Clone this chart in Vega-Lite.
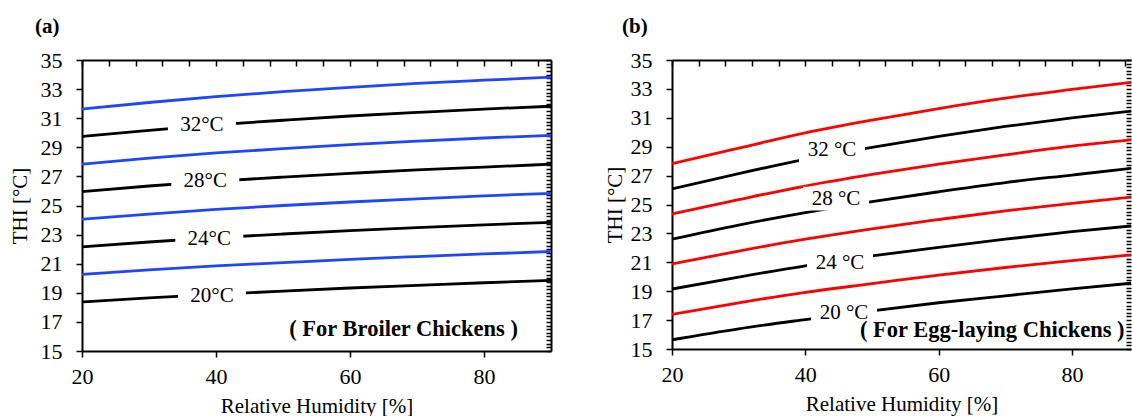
{
  "$schema": "https://vega.github.io/schema/vega-lite/v6.json",
  "padding": {"left": 9, "top": 16, "right": 0, "bottom": 0},
  "background": "white",
  "spacing": 47,
  "config": {
    "view": {"stroke": null},
    "font": "Liberation Serif",
    "axis": {
      "grid": false,
      "labelFont": "Liberation Serif",
      "labelFontSize": 22,
      "labelColor": "black",
      "titleFont": "Liberation Serif",
      "titleFontSize": 21,
      "titleFontWeight": "normal",
      "titleColor": "black",
      "domainColor": "black",
      "domainWidth": 2,
      "tickColor": "black",
      "tickWidth": 1.5,
      "labelFlush": false,
      "labelOverlap": false
    },
    "title": {"font": "Liberation Serif", "fontSize": 21, "fontWeight": "bold", "color": "black", "anchor": "start", "frame": "group", "baseline": "bottom"}
  },
  "datasets": {
    "a_lines": [
      {"T": 20, "kind": "labelled", "RH": 20, "THI": 18.37}, {"T": 20, "kind": "labelled", "RH": 30, "THI": 18.65}, {"T": 20, "kind": "labelled", "RH": 40, "THI": 18.89}, {"T": 20, "kind": "labelled", "RH": 50, "THI": 19.12}, {"T": 20, "kind": "labelled", "RH": 60, "THI": 19.33}, {"T": 20, "kind": "labelled", "RH": 70, "THI": 19.51}, {"T": 20, "kind": "labelled", "RH": 80, "THI": 19.69}, {"T": 20, "kind": "labelled", "RH": 90, "THI": 19.85},
      {"T": 22, "kind": "intermediate", "RH": 20, "THI": 20.26}, {"T": 22, "kind": "intermediate", "RH": 30, "THI": 20.58}, {"T": 22, "kind": "intermediate", "RH": 40, "THI": 20.85}, {"T": 22, "kind": "intermediate", "RH": 50, "THI": 21.07}, {"T": 22, "kind": "intermediate", "RH": 60, "THI": 21.3}, {"T": 22, "kind": "intermediate", "RH": 70, "THI": 21.49}, {"T": 22, "kind": "intermediate", "RH": 80, "THI": 21.67}, {"T": 22, "kind": "intermediate", "RH": 90, "THI": 21.84},
      {"T": 24, "kind": "labelled", "RH": 20, "THI": 22.16}, {"T": 24, "kind": "labelled", "RH": 30, "THI": 22.49}, {"T": 24, "kind": "labelled", "RH": 40, "THI": 22.79}, {"T": 24, "kind": "labelled", "RH": 50, "THI": 23.04}, {"T": 24, "kind": "labelled", "RH": 60, "THI": 23.27}, {"T": 24, "kind": "labelled", "RH": 70, "THI": 23.48}, {"T": 24, "kind": "labelled", "RH": 80, "THI": 23.67}, {"T": 24, "kind": "labelled", "RH": 90, "THI": 23.84},
      {"T": 26, "kind": "intermediate", "RH": 20, "THI": 24.05}, {"T": 26, "kind": "intermediate", "RH": 30, "THI": 24.41}, {"T": 26, "kind": "intermediate", "RH": 40, "THI": 24.73}, {"T": 26, "kind": "intermediate", "RH": 50, "THI": 25.0}, {"T": 26, "kind": "intermediate", "RH": 60, "THI": 25.24}, {"T": 26, "kind": "intermediate", "RH": 70, "THI": 25.46}, {"T": 26, "kind": "intermediate", "RH": 80, "THI": 25.66}, {"T": 26, "kind": "intermediate", "RH": 90, "THI": 25.84},
      {"T": 28, "kind": "labelled", "RH": 20, "THI": 25.95}, {"T": 28, "kind": "labelled", "RH": 30, "THI": 26.34}, {"T": 28, "kind": "labelled", "RH": 40, "THI": 26.67}, {"T": 28, "kind": "labelled", "RH": 50, "THI": 26.95}, {"T": 28, "kind": "labelled", "RH": 60, "THI": 27.21}, {"T": 28, "kind": "labelled", "RH": 70, "THI": 27.45}, {"T": 28, "kind": "labelled", "RH": 80, "THI": 27.64}, {"T": 28, "kind": "labelled", "RH": 90, "THI": 27.84},
      {"T": 30, "kind": "intermediate", "RH": 20, "THI": 27.84}, {"T": 30, "kind": "intermediate", "RH": 30, "THI": 28.25}, {"T": 30, "kind": "intermediate", "RH": 40, "THI": 28.61}, {"T": 30, "kind": "intermediate", "RH": 50, "THI": 28.91}, {"T": 30, "kind": "intermediate", "RH": 60, "THI": 29.18}, {"T": 30, "kind": "intermediate", "RH": 70, "THI": 29.42}, {"T": 30, "kind": "intermediate", "RH": 80, "THI": 29.64}, {"T": 30, "kind": "intermediate", "RH": 90, "THI": 29.82},
      {"T": 32, "kind": "labelled", "RH": 20, "THI": 29.74}, {"T": 32, "kind": "labelled", "RH": 30, "THI": 30.17}, {"T": 32, "kind": "labelled", "RH": 40, "THI": 30.55}, {"T": 32, "kind": "labelled", "RH": 50, "THI": 30.86}, {"T": 32, "kind": "labelled", "RH": 60, "THI": 31.15}, {"T": 32, "kind": "labelled", "RH": 70, "THI": 31.4}, {"T": 32, "kind": "labelled", "RH": 80, "THI": 31.63}, {"T": 32, "kind": "labelled", "RH": 90, "THI": 31.82},
      {"T": 34, "kind": "intermediate", "RH": 20, "THI": 31.63}, {"T": 34, "kind": "intermediate", "RH": 30, "THI": 32.08}, {"T": 34, "kind": "intermediate", "RH": 40, "THI": 32.49}, {"T": 34, "kind": "intermediate", "RH": 50, "THI": 32.82}, {"T": 34, "kind": "intermediate", "RH": 60, "THI": 33.12}, {"T": 34, "kind": "intermediate", "RH": 70, "THI": 33.39}, {"T": 34, "kind": "intermediate", "RH": 80, "THI": 33.61}, {"T": 34, "kind": "intermediate", "RH": 90, "THI": 33.82}
    ],
    "b_lines": [
      {"T": 20, "kind": "labelled", "RH": 20, "THI": 15.64}, {"T": 20, "kind": "labelled", "RH": 30, "THI": 16.4}, {"T": 20, "kind": "labelled", "RH": 40, "THI": 17.04}, {"T": 20, "kind": "labelled", "RH": 50, "THI": 17.64}, {"T": 20, "kind": "labelled", "RH": 60, "THI": 18.2}, {"T": 20, "kind": "labelled", "RH": 70, "THI": 18.68}, {"T": 20, "kind": "labelled", "RH": 80, "THI": 19.16}, {"T": 20, "kind": "labelled", "RH": 90, "THI": 19.6},
      {"T": 22, "kind": "intermediate", "RH": 20, "THI": 17.4}, {"T": 22, "kind": "intermediate", "RH": 30, "THI": 18.2}, {"T": 22, "kind": "intermediate", "RH": 40, "THI": 18.92}, {"T": 22, "kind": "intermediate", "RH": 50, "THI": 19.52}, {"T": 22, "kind": "intermediate", "RH": 60, "THI": 20.12}, {"T": 22, "kind": "intermediate", "RH": 70, "THI": 20.64}, {"T": 22, "kind": "intermediate", "RH": 80, "THI": 21.12}, {"T": 22, "kind": "intermediate", "RH": 90, "THI": 21.56},
      {"T": 24, "kind": "labelled", "RH": 20, "THI": 19.15}, {"T": 24, "kind": "labelled", "RH": 30, "THI": 19.98}, {"T": 24, "kind": "labelled", "RH": 40, "THI": 20.76}, {"T": 24, "kind": "labelled", "RH": 50, "THI": 21.44}, {"T": 24, "kind": "labelled", "RH": 60, "THI": 22.04}, {"T": 24, "kind": "labelled", "RH": 70, "THI": 22.6}, {"T": 24, "kind": "labelled", "RH": 80, "THI": 23.12}, {"T": 24, "kind": "labelled", "RH": 90, "THI": 23.56},
      {"T": 26, "kind": "intermediate", "RH": 20, "THI": 20.88}, {"T": 26, "kind": "intermediate", "RH": 30, "THI": 21.78}, {"T": 26, "kind": "intermediate", "RH": 40, "THI": 22.6}, {"T": 26, "kind": "intermediate", "RH": 50, "THI": 23.32}, {"T": 26, "kind": "intermediate", "RH": 60, "THI": 23.96}, {"T": 26, "kind": "intermediate", "RH": 70, "THI": 24.56}, {"T": 26, "kind": "intermediate", "RH": 80, "THI": 25.08}, {"T": 26, "kind": "intermediate", "RH": 90, "THI": 25.56},
      {"T": 28, "kind": "labelled", "RH": 20, "THI": 22.6}, {"T": 28, "kind": "labelled", "RH": 30, "THI": 23.58}, {"T": 28, "kind": "labelled", "RH": 40, "THI": 24.44}, {"T": 28, "kind": "labelled", "RH": 50, "THI": 25.2}, {"T": 28, "kind": "labelled", "RH": 60, "THI": 25.88}, {"T": 28, "kind": "labelled", "RH": 70, "THI": 26.52}, {"T": 28, "kind": "labelled", "RH": 80, "THI": 27.04}, {"T": 28, "kind": "labelled", "RH": 90, "THI": 27.56},
      {"T": 30, "kind": "intermediate", "RH": 20, "THI": 24.35}, {"T": 30, "kind": "intermediate", "RH": 30, "THI": 25.34}, {"T": 30, "kind": "intermediate", "RH": 40, "THI": 26.28}, {"T": 30, "kind": "intermediate", "RH": 50, "THI": 27.08}, {"T": 30, "kind": "intermediate", "RH": 60, "THI": 27.8}, {"T": 30, "kind": "intermediate", "RH": 70, "THI": 28.44}, {"T": 30, "kind": "intermediate", "RH": 80, "THI": 29.04}, {"T": 30, "kind": "intermediate", "RH": 90, "THI": 29.52},
      {"T": 32, "kind": "labelled", "RH": 20, "THI": 26.08}, {"T": 32, "kind": "labelled", "RH": 30, "THI": 27.14}, {"T": 32, "kind": "labelled", "RH": 40, "THI": 28.12}, {"T": 32, "kind": "labelled", "RH": 50, "THI": 28.96}, {"T": 32, "kind": "labelled", "RH": 60, "THI": 29.72}, {"T": 32, "kind": "labelled", "RH": 70, "THI": 30.4}, {"T": 32, "kind": "labelled", "RH": 80, "THI": 31.0}, {"T": 32, "kind": "labelled", "RH": 90, "THI": 31.52},
      {"T": 34, "kind": "intermediate", "RH": 20, "THI": 27.82}, {"T": 34, "kind": "intermediate", "RH": 30, "THI": 28.9}, {"T": 34, "kind": "intermediate", "RH": 40, "THI": 29.96}, {"T": 34, "kind": "intermediate", "RH": 50, "THI": 30.84}, {"T": 34, "kind": "intermediate", "RH": 60, "THI": 31.64}, {"T": 34, "kind": "intermediate", "RH": 70, "THI": 32.36}, {"T": 34, "kind": "intermediate", "RH": 80, "THI": 32.96}, {"T": 34, "kind": "intermediate", "RH": 90, "THI": 33.52}
    ],
    "a_labels": [
      {"RH": 37.9, "THI": 30.5, "label": "32°C"},
      {"RH": 38.4, "THI": 26.68, "label": "28°C"},
      {"RH": 39.0, "THI": 22.72, "label": "24°C"},
      {"RH": 39.4, "THI": 18.8, "label": "20°C"}
    ],
    "b_labels": [
      {"RH": 44.0, "THI": 28.77, "label": "32 °C"},
      {"RH": 44.6, "THI": 25.4, "label": "28 °C"},
      {"RH": 45.2, "THI": 20.93, "label": "24 °C"},
      {"RH": 45.8, "THI": 17.47, "label": "20 °C"}
    ],
    "a_note": [{"RH": 68, "THI": 16.5, "note": "( For Broiler Chickens )"}],
    "b_note": [{"RH": 48.2, "THI": 16.3, "note": "( For Egg-laying Chickens )"}]
  },
  "hconcat": [
    {
      "title": {"text": "(a)", "dx": -47, "offset": 12},
      "width": 469,
      "height": 291,
      "resolve": {"axis": {"x": "independent", "y": "independent"}},
      "layer": [
        {
          "data": {"name": "a_lines"},
          "transform": [{"filter": "datum.kind === 'labelled'"}],
          "mark": {"type": "line", "color": "black", "strokeWidth": 2.8, "interpolate": "monotone"},
          "encoding": {
            "x": {"field": "RH", "type": "quantitative", "scale": {"domain": [20, 90], "nice": false, "zero": false},
                  "axis": {"values": [20, 40, 60, 80], "tickSize": 6, "labelPadding": 9, "title": "Relative Humidity [%]", "titlePadding": 8}},
            "y": {"field": "THI", "type": "quantitative", "scale": {"domain": [15, 35], "nice": false, "zero": false},
                  "axis": {"values": [15, 17, 19, 21, 23, 25, 27, 29, 31, 33, 35], "tickSize": 6, "labelPadding": 14, "title": "THI [°C]", "titlePadding": 10}},
            "detail": {"field": "T"}
          }
        },
        {
          "data": {"name": "a_lines"},
          "transform": [{"filter": "datum.kind === 'intermediate'"}],
          "mark": {"type": "line", "color": "#1f45ff", "strokeWidth": 2.8, "interpolate": "monotone"},
          "encoding": {
            "x": {"field": "RH", "type": "quantitative", "scale": {"domain": [20, 90], "nice": false, "zero": false},
                  "axis": {"values": [20, 24, 28, 32, 36, 40, 44, 48, 52, 56, 60, 64, 68, 72, 76, 80, 84, 88], "tickSize": -6, "labels": false, "domain": false, "title": null}},
            "y": {"field": "THI", "type": "quantitative", "scale": {"domain": [15, 35], "nice": false, "zero": false},
                  "axis": {"values": [15, 15.25, 15.5, 15.75, 16, 16.25, 16.5, 16.75, 17, 17.25, 17.5, 17.75, 18, 18.25, 18.5, 18.75, 19, 19.25, 19.5, 19.75, 20, 20.25, 20.5, 20.75, 21, 21.25, 21.5, 21.75, 22, 22.25, 22.5, 22.75, 23, 23.25, 23.5, 23.75, 24, 24.25, 24.5, 24.75, 25, 25.25, 25.5, 25.75, 26, 26.25, 26.5, 26.75, 27, 27.25, 27.5, 27.75, 28, 28.25, 28.5, 28.75, 29, 29.25, 29.5, 29.75, 30, 30.25, 30.5, 30.75, 31, 31.25, 31.5, 31.75, 32, 32.25, 32.5, 32.75, 33, 33.25, 33.5, 33.75, 34, 34.25, 34.5, 34.75, 35], "tickSize": -5, "labels": false, "domain": false, "title": null}},
            "detail": {"field": "T"}
          }
        },
        {
          "data": {"name": "a_labels"},
          "mark": {"type": "point", "shape": "M-1,-0.32L1,-0.32L1,0.32L-1,0.32Z", "size": 4624, "filled": true, "color": "white", "opacity": 1, "strokeWidth": 0},
          "encoding": {
            "x": {"field": "RH", "type": "quantitative", "scale": {"domain": [20, 90], "nice": false, "zero": false},
                  "axis": {"orient": "top", "ticks": false, "labels": false, "title": null, "domain": true}},
            "y": {"field": "THI", "type": "quantitative", "scale": {"domain": [15, 35], "nice": false, "zero": false},
                  "axis": {"orient": "right", "ticks": false, "labels": false, "title": null, "domain": true}}
          }
        },
        {
          "data": {"name": "a_labels"},
          "mark": {"type": "text", "font": "Liberation Serif", "fontSize": 21, "color": "black", "align": "center", "baseline": "middle"},
          "encoding": {
            "x": {"field": "RH", "type": "quantitative", "axis": null},
            "y": {"field": "THI", "type": "quantitative", "axis": null},
            "text": {"field": "label"}
          }
        },
        {
          "data": {"name": "a_note"},
          "mark": {"type": "text", "font": "Liberation Serif", "fontSize": 22.5, "fontWeight": "bold", "color": "black", "align": "center", "baseline": "middle"},
          "encoding": {
            "x": {"field": "RH", "type": "quantitative", "axis": null},
            "y": {"field": "THI", "type": "quantitative", "axis": null},
            "text": {"field": "note"}
          }
        }
      ]
    },
    {
      "title": {"text": "(b)", "dx": -50, "offset": 12},
      "width": 459,
      "height": 289,
      "resolve": {"axis": {"x": "independent", "y": "independent"}},
      "layer": [
        {
          "data": {"name": "b_lines"},
          "transform": [{"filter": "datum.kind === 'labelled'"}],
          "mark": {"type": "line", "color": "black", "strokeWidth": 2.8, "interpolate": "monotone", "clip": true},
          "encoding": {
            "x": {"field": "RH", "type": "quantitative", "scale": {"domain": [20, 88.85], "nice": false, "zero": false},
                  "axis": {"values": [20, 40, 60, 80], "tickSize": 6, "labelPadding": 9, "title": "Relative Humidity [%]", "titlePadding": 8}},
            "y": {"field": "THI", "type": "quantitative", "scale": {"domain": [15, 35], "nice": false, "zero": false},
                  "axis": {"values": [15, 17, 19, 21, 23, 25, 27, 29, 31, 33, 35], "tickSize": 6, "labelPadding": 14, "title": "THI [°C]", "titlePadding": 5}},
            "detail": {"field": "T"}
          }
        },
        {
          "data": {"name": "b_lines"},
          "transform": [{"filter": "datum.kind === 'intermediate'"}],
          "mark": {"type": "line", "color": "#ff0000", "strokeWidth": 2.8, "interpolate": "monotone", "clip": true},
          "encoding": {
            "x": {"field": "RH", "type": "quantitative", "scale": {"domain": [20, 88.85], "nice": false, "zero": false},
                  "axis": {"values": [20, 24, 28, 32, 36, 40, 44, 48, 52, 56, 60, 64, 68, 72, 76, 80, 84, 88], "tickSize": -6, "labels": false, "domain": false, "title": null}},
            "y": {"field": "THI", "type": "quantitative", "scale": {"domain": [15, 35], "nice": false, "zero": false},
                  "axis": {"values": [15, 15.25, 15.5, 15.75, 16, 16.25, 16.5, 16.75, 17, 17.25, 17.5, 17.75, 18, 18.25, 18.5, 18.75, 19, 19.25, 19.5, 19.75, 20, 20.25, 20.5, 20.75, 21, 21.25, 21.5, 21.75, 22, 22.25, 22.5, 22.75, 23, 23.25, 23.5, 23.75, 24, 24.25, 24.5, 24.75, 25, 25.25, 25.5, 25.75, 26, 26.25, 26.5, 26.75, 27, 27.25, 27.5, 27.75, 28, 28.25, 28.5, 28.75, 29, 29.25, 29.5, 29.75, 30, 30.25, 30.5, 30.75, 31, 31.25, 31.5, 31.75, 32, 32.25, 32.5, 32.75, 33, 33.25, 33.5, 33.75, 34, 34.25, 34.5, 34.75, 35], "tickSize": -5, "labels": false, "domain": false, "title": null}},
            "detail": {"field": "T"}
          }
        },
        {
          "data": {"name": "b_labels"},
          "mark": {"type": "point", "shape": "M-1,-0.36L1,-0.36L1,0.36L-1,0.36Z", "size": 4356, "filled": true, "color": "white", "opacity": 1, "strokeWidth": 0},
          "encoding": {
            "x": {"field": "RH", "type": "quantitative", "scale": {"domain": [20, 88.85], "nice": false, "zero": false},
                  "axis": {"orient": "top", "ticks": false, "labels": false, "title": null, "domain": true}},
            "y": {"field": "THI", "type": "quantitative", "scale": {"domain": [15, 35], "nice": false, "zero": false}, "axis": null}
          }
        },
        {
          "data": {"name": "b_labels"},
          "mark": {"type": "text", "font": "Liberation Serif", "fontSize": 21, "color": "black", "align": "center", "baseline": "middle"},
          "encoding": {
            "x": {"field": "RH", "type": "quantitative", "axis": null},
            "y": {"field": "THI", "type": "quantitative", "axis": null},
            "text": {"field": "label"}
          }
        },
        {
          "data": {"name": "b_note"},
          "mark": {"type": "text", "font": "Liberation Serif", "fontSize": 22.5, "fontWeight": "bold", "color": "black", "align": "left", "baseline": "middle", "clip": true},
          "encoding": {
            "x": {"field": "RH", "type": "quantitative", "axis": null},
            "y": {"field": "THI", "type": "quantitative", "axis": null},
            "text": {"field": "note"}
          }
        }
      ]
    }
  ]
}
